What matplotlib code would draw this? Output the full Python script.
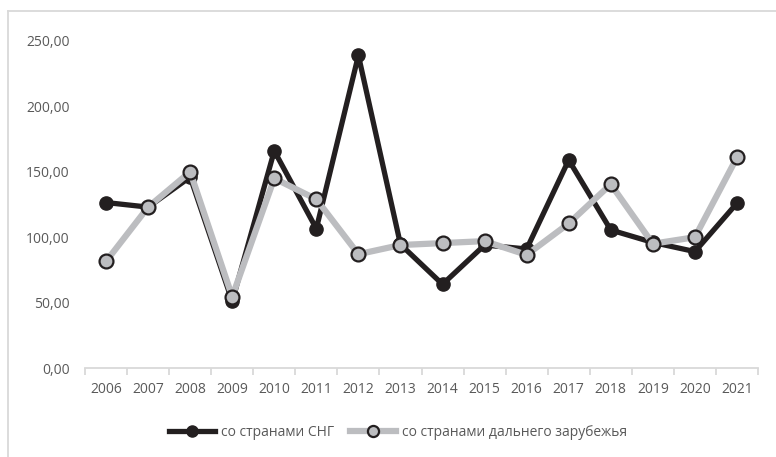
import numpy as np
import matplotlib.pyplot as plt
from matplotlib.lines import Line2D
from matplotlib.ticker import FuncFormatter

plt.rcParams['font.family'] = ['Open Sans', 'DejaVu Sans']

years = [str(y) for y in range(2006, 2022)]
cis = [126.5, 123, 146, 51, 166, 106.5, 239, 94.5, 64, 94, 91, 159, 105.5, 96, 89, 126]
far = [81.5, 123, 150, 54.5, 145, 129, 87, 94, 95.5, 97, 86.5, 110.5, 140.5, 95, 100, 161]

fig = plt.figure(figsize=(7.76, 4.57), dpi=100)
ax = fig.add_axes([85 / 776, 1 - 368 / 457, (758 - 85) / 776, (368 - 41) / 457])

x = np.arange(len(years))
ax.plot(x, cis, color='#231f20', lw=3.8, marker='o', ms=9.5,
        mfc='#231f20', mec='#231f20', zorder=3, label='со странами СНГ')
ax.plot(x, far, color='#bcbdc0', lw=4.5, marker='o', ms=10,
        mfc='#bcbdc0', mec='#231f20', mew=1.6, zorder=4,
        label='со странами дальнего зарубежья')

ax.set_xlim(-0.5, len(years) - 0.5)
ax.set_ylim(0, 250)
ax.set_yticks(range(0, 251, 50))
ax.yaxis.set_major_formatter(FuncFormatter(lambda v, p: f'{v:.2f}'.replace('.', ',')))
ax.set_xticks(x)
ax.set_xticklabels(years)
ax.set_xticks(np.arange(-0.5, len(years)), minor=True)

for s in ['top', 'right', 'left']:
    ax.spines[s].set_visible(False)
ax.spines['bottom'].set_color('#d9d9d9')
ax.spines['bottom'].set_linewidth(1.3)
ax.tick_params(axis='y', length=0, pad=11, labelsize=10, labelcolor='#595959')
ax.tick_params(axis='x', which='major', length=0, pad=10, labelsize=10, labelcolor='#595959')
ax.tick_params(axis='x', which='minor', length=5, width=1.3, color='#d9d9d9')

handles = [
    Line2D([], [], color='#231f20', lw=3.8, marker='o', ms=8, mfc='#231f20', mec='#231f20'),
    Line2D([], [], color='#bcbdc0', lw=4.5, marker='o', ms=8, mfc='#bcbdc0', mec='#231f20', mew=1.6),
]
fig.legend(handles, ['со странами СНГ', 'со странами дальнего зарубежья'],
           loc='center', bbox_to_anchor=(0.513, 1 - 432 / 457), ncol=2, frameon=False,
           fontsize=10, labelcolor='#595959', handlelength=3.3, handletextpad=0.4,
           columnspacing=1.2)

# frame of the chart area
fig.add_artist(Line2D([8 / 776, 1], [1 - 11 / 457] * 2, color='#d9d9d9', lw=1.3))
fig.add_artist(Line2D([8 / 776] * 2, [0, 1 - 11 / 457], color='#d9d9d9', lw=1.3))

plt.savefig('out.png', dpi=100)
